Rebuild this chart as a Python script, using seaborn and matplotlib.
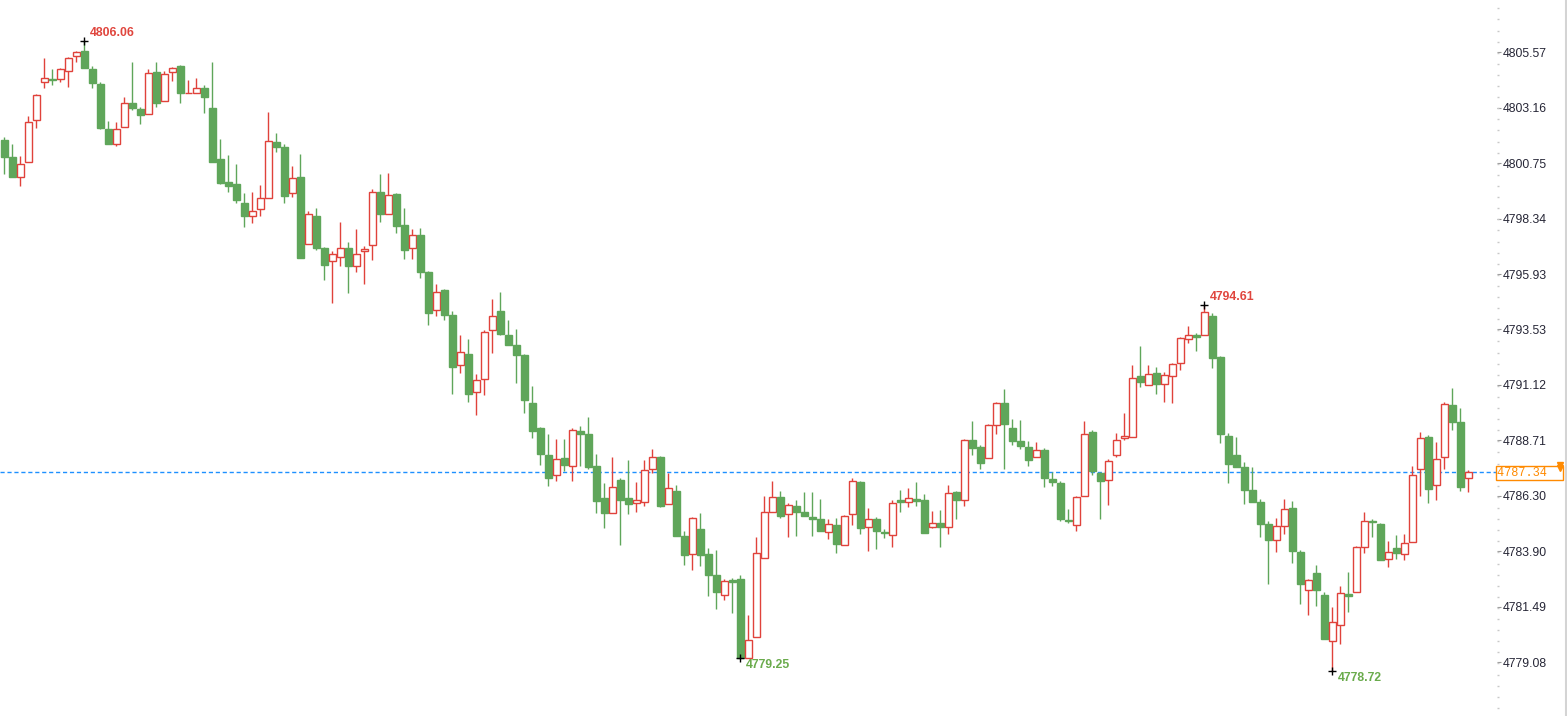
import numpy as np
import pandas as pd
import seaborn as sns
import matplotlib.pyplot as plt
from matplotlib.lines import Line2D
from matplotlib.ticker import MultipleLocator

# candle data (open, high, low, close)
opens = [4801.75, 4801.02, 4800.16, 4800.78, 4802.61, 4804.25, 4804.39, 4804.39, 4804.73, 4805.38,
         4805.61, 4804.83, 4804.18, 4802.23, 4801.56, 4802.30, 4803.34, 4803.10, 4802.87, 4804.69,
         4803.43, 4804.69, 4804.95, 4803.78, 4803.78, 4804.00, 4803.13, 4800.93, 4799.91, 4799.84,
         4799.02, 4798.44, 4798.74, 4799.22, 4801.65, 4801.45, 4799.44, 4800.15, 4797.23, 4798.46,
         4797.07, 4796.49, 4796.66, 4797.05, 4796.30, 4796.92, 4797.18, 4799.48, 4798.53, 4799.41,
         4798.06, 4797.05, 4797.63, 4796.04, 4794.36, 4795.24, 4794.16, 4791.97, 4792.47, 4790.80,
         4791.37, 4793.49, 4794.33, 4793.29, 4792.86, 4792.42, 4790.34, 4789.25, 4788.08, 4787.20,
         4787.95, 4787.59, 4789.11, 4788.99, 4787.61, 4786.22, 4785.55, 4787.00, 4786.22, 4785.98,
         4786.03, 4787.46, 4787.99, 4785.94, 4786.52, 4784.57, 4783.77, 4784.87, 4783.79, 4782.88,
         4781.99, 4782.64, 4782.70, 4779.26, 4780.17, 4783.60, 4785.59, 4786.25, 4785.51, 4785.87,
         4785.61, 4785.38, 4785.31, 4784.73, 4785.04, 4784.16, 4785.51, 4786.91, 4784.97, 4785.31,
         4784.74, 4784.60, 4786.13, 4786.03, 4786.17, 4786.12, 4784.94, 4785.12, 4784.94, 4786.48,
         4786.12, 4788.72, 4788.42, 4787.94, 4789.37, 4790.33, 4789.24, 4788.69, 4788.43, 4787.98,
         4788.30, 4787.04, 4786.87, 4785.26, 4785.06, 4786.29, 4789.08, 4787.30, 4786.98, 4788.07,
         4788.82, 4788.85, 4791.50, 4791.11, 4791.63, 4791.15, 4791.50, 4792.06, 4793.10, 4793.28,
         4793.28, 4794.12, 4792.34, 4788.91, 4788.08, 4787.56, 4786.56, 4786.04, 4785.09, 4784.37,
         4784.99, 4785.77, 4783.86, 4782.21, 4782.96, 4782.01, 4779.99, 4780.68, 4782.04, 4782.12,
         4784.08, 4785.20, 4785.09, 4783.55, 4784.03, 4783.79, 4784.29, 4787.46, 4788.86, 4786.77,
         4787.98, 4790.25, 4789.52, 4787.07]
highs = [4801.90, 4801.58, 4801.06, 4802.78, 4803.75, 4805.31, 4804.83, 4804.86, 4805.34, 4805.61,
         4806.06, 4804.95, 4804.27, 4802.58, 4802.53, 4803.60, 4805.14, 4803.19, 4804.82, 4805.14,
         4804.75, 4804.92, 4805.01, 4804.34, 4804.43, 4804.13, 4805.14, 4801.80, 4801.10, 4800.71,
         4799.45, 4799.50, 4799.80, 4802.97, 4802.06, 4801.58, 4800.62, 4801.15, 4798.67, 4798.80,
         4797.12, 4796.94, 4798.19, 4797.33, 4797.89, 4797.15, 4799.63, 4800.28, 4800.32, 4799.44,
         4798.80, 4797.89, 4797.93, 4796.07, 4795.50, 4795.29, 4794.32, 4793.29, 4793.12, 4791.60,
         4793.51, 4794.85, 4795.16, 4793.94, 4793.55, 4792.47, 4791.08, 4789.30, 4788.99, 4788.78,
         4788.78, 4789.23, 4789.34, 4789.73, 4788.13, 4786.87, 4787.98, 4787.06, 4787.87, 4786.91,
         4787.87, 4788.34, 4788.04, 4787.30, 4786.78, 4784.78, 4785.39, 4785.57, 4784.06, 4783.96,
         4782.70, 4782.74, 4782.87, 4781.14, 4784.50, 4786.30, 4786.95, 4786.52, 4786.00, 4786.13,
         4786.48, 4786.48, 4786.17, 4785.31, 4785.35, 4785.48, 4787.08, 4786.97, 4785.78, 4785.39,
         4784.87, 4786.13, 4786.56, 4786.65, 4786.91, 4786.39, 4785.65, 4785.70, 4786.77, 4786.52,
         4788.76, 4789.56, 4788.50, 4789.43, 4790.38, 4790.95, 4789.65, 4789.60, 4788.69, 4788.65,
         4788.39, 4787.33, 4786.93, 4785.74, 4786.30, 4789.56, 4789.17, 4787.35, 4787.91, 4789.04,
         4789.91, 4791.99, 4792.81, 4791.99, 4791.89, 4791.67, 4792.08, 4793.20, 4793.68, 4793.36,
         4794.61, 4794.23, 4792.37, 4789.02, 4788.88, 4787.78, 4787.56, 4786.17, 4785.22, 4785.35,
         4786.17, 4786.09, 4783.96, 4782.69, 4783.31, 4782.14, 4781.49, 4782.38, 4783.01, 4784.15,
         4785.61, 4785.31, 4785.13, 4784.34, 4784.61, 4784.65, 4787.61, 4789.08, 4788.95, 4788.65,
         4790.38, 4790.99, 4790.12, 4787.43]
lows = [4800.28, 4800.14, 4799.77, 4800.78, 4802.29, 4804.03, 4804.16, 4804.28, 4804.07, 4805.14,
        4804.89, 4804.02, 4802.25, 4801.59, 4801.48, 4802.30, 4803.05, 4802.46, 4802.87, 4803.20,
        4803.43, 4804.33, 4803.37, 4803.78, 4803.78, 4802.94, 4800.81, 4799.86, 4799.51, 4799.03,
        4797.99, 4798.17, 4798.47, 4799.22, 4801.25, 4799.03, 4799.29, 4796.65, 4797.23, 4796.98,
        4795.69, 4794.69, 4796.30, 4795.13, 4796.04, 4795.52, 4796.56, 4798.21, 4798.53, 4797.73,
        4796.60, 4796.60, 4795.78, 4793.74, 4794.13, 4793.96, 4790.74, 4791.66, 4790.40, 4789.83,
        4790.70, 4792.52, 4793.30, 4792.87, 4791.22, 4789.92, 4788.83, 4787.66, 4786.75, 4786.93,
        4787.39, 4786.97, 4787.62, 4787.49, 4785.58, 4784.93, 4785.55, 4784.19, 4785.54, 4785.62,
        4785.88, 4787.29, 4785.84, 4785.94, 4784.58, 4783.32, 4783.08, 4783.28, 4781.98, 4781.41,
        4781.80, 4781.20, 4779.25, 4779.26, 4780.17, 4783.60, 4785.59, 4785.36, 4784.54, 4784.58,
        4785.41, 4784.58, 4784.76, 4784.45, 4783.84, 4784.16, 4785.06, 4784.63, 4783.93, 4784.02,
        4784.49, 4784.10, 4785.62, 4785.84, 4785.88, 4784.71, 4784.89, 4784.10, 4784.63, 4785.32,
        4785.88, 4788.10, 4787.49, 4787.94, 4788.97, 4787.49, 4788.53, 4788.36, 4787.62, 4787.98,
        4786.71, 4786.72, 4785.20, 4785.13, 4784.76, 4786.29, 4787.19, 4785.28, 4785.93, 4787.98,
        4788.71, 4788.85, 4791.05, 4791.11, 4790.74, 4790.40, 4790.35, 4791.79, 4792.96, 4792.61,
        4793.28, 4791.87, 4788.62, 4786.88, 4787.56, 4785.97, 4786.06, 4784.50, 4782.46, 4783.89,
        4784.63, 4783.37, 4781.59, 4781.15, 4781.54, 4780.11, 4778.72, 4779.89, 4781.28, 4782.12,
        4783.84, 4784.50, 4783.50, 4783.21, 4783.58, 4783.50, 4784.29, 4786.32, 4786.01, 4786.14,
        4787.46, 4789.18, 4786.53, 4786.49]
closes = [4801.03, 4800.16, 4800.70, 4802.52, 4803.69, 4804.43, 4804.37, 4804.82, 4805.30, 4805.56,
          4804.89, 4804.21, 4802.29, 4801.59, 4802.21, 4803.34, 4803.16, 4802.85, 4804.65, 4803.37,
          4804.60, 4804.86, 4803.78, 4803.79, 4804.00, 4803.63, 4800.81, 4799.90, 4799.77, 4799.16,
          4798.47, 4798.66, 4799.22, 4801.71, 4801.46, 4799.34, 4800.09, 4796.65, 4798.53, 4797.08,
          4796.34, 4796.79, 4797.05, 4796.30, 4796.79, 4797.01, 4799.48, 4798.56, 4799.35, 4798.04,
          4796.99, 4797.62, 4796.04, 4794.26, 4795.14, 4794.17, 4791.92, 4792.54, 4790.74, 4791.32,
          4793.42, 4794.10, 4793.35, 4792.87, 4792.44, 4790.48, 4789.10, 4788.14, 4787.06, 4787.90,
          4787.66, 4789.15, 4789.01, 4787.58, 4786.10, 4785.58, 4786.68, 4786.14, 4785.97, 4786.13,
          4787.42, 4787.98, 4785.88, 4786.64, 4784.58, 4783.76, 4785.33, 4783.76, 4782.89, 4782.15,
          4782.60, 4782.58, 4779.25, 4780.05, 4783.82, 4785.59, 4786.25, 4785.41, 4785.90, 4785.62,
          4785.41, 4785.32, 4784.76, 4785.07, 4784.23, 4785.44, 4786.94, 4784.89, 4785.29, 4784.76,
          4784.71, 4785.98, 4786.03, 4786.20, 4786.10, 4784.71, 4785.12, 4784.97, 4786.42, 4786.14,
          4788.72, 4788.40, 4787.75, 4789.37, 4790.33, 4789.44, 4788.70, 4788.49, 4787.88, 4788.29,
          4787.06, 4786.90, 4785.32, 4785.20, 4786.25, 4788.98, 4787.40, 4786.93, 4787.81, 4788.72,
          4788.91, 4791.41, 4791.24, 4791.58, 4791.18, 4791.54, 4792.02, 4793.15, 4793.28, 4793.22,
          4794.27, 4792.31, 4788.97, 4787.71, 4787.56, 4786.58, 4786.06, 4785.10, 4784.37, 4784.99,
          4785.72, 4783.93, 4782.46, 4782.64, 4782.24, 4780.11, 4780.82, 4782.08, 4781.98, 4784.08,
          4785.20, 4785.15, 4783.50, 4783.89, 4783.81, 4784.25, 4787.20, 4788.81, 4786.59, 4787.90,
          4790.28, 4789.53, 4786.71, 4787.34]

yticks = ['4805.57', '4803.16', '4800.75', '4798.34', '4795.93', '4793.53',
          '4791.12', '4788.71', '4786.30', '4783.90', '4781.49', '4779.08']
last_price = 4787.34

UP = '#e0423b'
DOWN = '#5fa65a'
UP_TXT = '#e0463e'
DOWN_TXT = '#6aab4c'

df = pd.DataFrame({'open': opens, 'high': highs, 'low': lows, 'close': closes})
df['i'] = np.arange(len(df))
df['up'] = df['close'] >= df['open']

sns.set_style('white')
plt.rcParams['font.family'] = ['Liberation Sans', 'DejaVu Sans']

W, H = 1567, 716
fig = plt.figure(figsize=(W / 100, H / 100), dpi=100)
ax = fig.add_axes([0, 0, 1497 / W, 1])

# wicks
colors = np.where(df['up'], UP, DOWN)
ax.vlines(df['i'], df['low'], df['high'], colors=colors, linewidth=1, zorder=1)
# bodies
body_lo = df[['open', 'close']].min(axis=1)
body_h = (df['close'] - df['open']).abs().clip(lower=0.02)
ax.bar(df['i'], body_h, bottom=body_lo, width=0.82,
       color=np.where(df['up'], 'white', DOWN), edgecolor=colors,
       linewidth=1, zorder=2)

# extreme markers
hi_pts = [df['high'].iloc[:60].idxmax(), df['high'].iloc[120:].idxmax()]
lo_pts = [df['low'].iloc[60:130].idxmin(), df['low'].iloc[130:].idxmin()]
ext = pd.DataFrame({'i': hi_pts + lo_pts,
                    'v': [df['high'][k] for k in hi_pts] + [df['low'][k] for k in lo_pts]})
sns.scatterplot(data=ext, x='i', y='v', marker='+', color='black', s=40,
                linewidth=1, ax=ax, zorder=5, legend=False)
for k in hi_pts:
    ax.annotate(f"{df['high'][k]:.2f}", (k, df['high'][k]), xytext=(4, 5.5),
                textcoords='offset points', color=UP_TXT, fontsize=8.8,
                fontweight='bold', ha='left', va='center')
for k in lo_pts:
    ax.annotate(f"{df['low'][k]:.2f}", (k, df['low'][k]), xytext=(4, -5),
                textcoords='offset points', color=DOWN_TXT, fontsize=8.8,
                fontweight='bold', ha='left', va='center')

# last price line
ax.axhline(last_price, color='#1e90ff', linewidth=1, linestyle=(0, (3, 2)), zorder=0)

ax.set_xlim(-0.54, -0.54 + 1497 / 8)
ax.set_ylim(4776.75, 4807.83)
ax.set_xticks([])
ax.set_xlabel('')
ax.set_ylabel('')
for s in ['top', 'left', 'bottom', 'right']:
    ax.spines[s].set_visible(False)

ax.yaxis.tick_right()
ax.set_yticks([float(t) for t in yticks])
ax.set_yticklabels(yticks)
ax.yaxis.set_minor_locator(MultipleLocator(2.41 / 5))
ax.tick_params(axis='y', which='major', length=3, width=0.8, color='#999999',
               labelsize=8.8, labelcolor='#262636', pad=1)
ax.tick_params(axis='y', which='minor', length=1.2, width=1, color='#c8c8c8')

# last price tag on the axis
ax.annotate(f'{last_price:.2f}  ', (1.0, last_price), xycoords=('axes fraction', 'data'),
            xytext=(0.3, -0.5), textcoords='offset points', ha='left', va='center',
            fontsize=8.6, color='#ff8a00', family='Liberation Mono', annotation_clip=False,
            bbox=dict(boxstyle='square,pad=0.1', fc='white', ec='#ff8a00', lw=1), zorder=6)
# small double arrow above the tag
ax.plot([1.042, 1.042], [last_price + 0.17, last_price + 0.31], linestyle='none',
        marker='v', markersize=4.5, color='#ff8a00', transform=ax.get_yaxis_transform(),
        clip_on=False, zorder=7)

fig.add_artist(Line2D([1566 / W, 1566 / W], [0, 1], color='#d4d4d4', linewidth=1.5))

fig.savefig('out.png', dpi=100)
